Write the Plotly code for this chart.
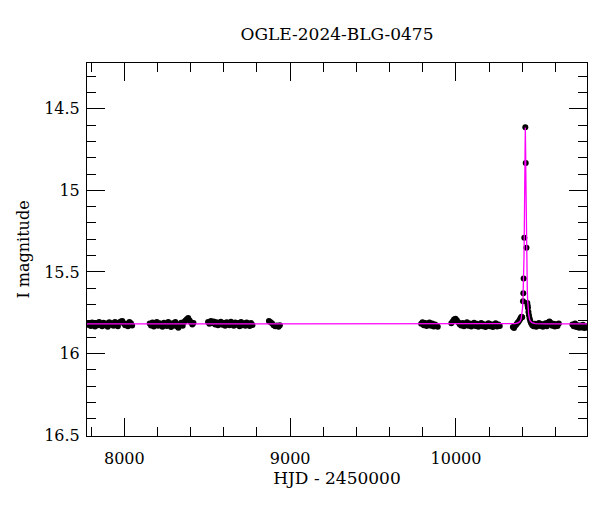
import plotly.graph_objects as go

# ---------------- data (HJD - 2450000, I magnitude) ----------------
s1_t = [7781, 7790, 7798, 7806, 7815, 7823, 7831, 7840, 7848, 7857, 7866, 7874, 7883, 7892, 7900, 7909,
        7918, 7926, 7935, 7944, 7952, 7961, 7970, 7979, 7988, 7996, 8005, 8014, 8022, 8031, 8040, 8047]
s1_m = [15.824, 15.812, 15.831, 15.809, 15.822, 15.834, 15.813, 15.827, 15.806, 15.820, 15.832, 15.811,
        15.826, 15.816, 15.835, 15.808, 15.823, 15.814, 15.829, 15.806, 15.824, 15.833, 15.810, 15.803,
        15.800, 15.814, 15.827, 15.817, 15.832, 15.807, 15.815, 15.828]

s2_t = [8153, 8161, 8170, 8178, 8187, 8196, 8204, 8213, 8222, 8230, 8239, 8248, 8256, 8265, 8274, 8282,
        8291, 8300, 8308, 8317, 8326, 8334, 8343, 8352, 8360, 8369, 8377, 8385, 8393, 8402, 8410, 8417]
s2_m = [15.816, 15.828, 15.810, 15.834, 15.820, 15.806, 15.830, 15.815, 15.825, 15.836, 15.811, 15.823,
        15.831, 15.807, 15.821, 15.838, 15.815, 15.828, 15.806, 15.833, 15.842, 15.820, 15.811, 15.829,
        15.806, 15.798, 15.790, 15.782, 15.796, 15.808, 15.822, 15.812]

s3_t = [8505, 8513, 8522, 8530, 8539, 8548, 8556, 8565, 8574, 8582, 8591, 8600, 8608, 8617, 8626, 8634,
        8643, 8652, 8660, 8669, 8678, 8686, 8695, 8704, 8712, 8721, 8730, 8738, 8747, 8756, 8764, 8773]
s3_m = [15.806, 15.818, 15.801, 15.813, 15.804, 15.822, 15.808, 15.826, 15.812, 15.805, 15.824, 15.813,
        15.830, 15.808, 15.820, 15.827, 15.805, 15.818, 15.830, 15.809, 15.823, 15.813, 15.832, 15.807,
        15.826, 15.815, 15.829, 15.809, 15.822, 15.831, 15.812, 15.825]

s4_t = [8872, 8880, 8890, 8900, 8910, 8920, 8930, 8938]
s4_m = [15.800, 15.806, 15.815, 15.826, 15.832, 15.828, 15.836, 15.826]

s5_t = [9790, 9798, 9806, 9815, 9823, 9832, 9840, 9849, 9857, 9866, 9874, 9883, 9890]
s5_m = [15.818, 15.808, 15.827, 15.813, 15.831, 15.820, 15.810, 15.829, 15.816, 15.834, 15.822, 15.830, 15.836]

s6_t = [9972, 9980, 9988, 9997, 10005, 10014, 10022, 10031, 10040, 10048, 10057, 10066, 10074, 10083,
        10092, 10100, 10109, 10118, 10126, 10135, 10144, 10152, 10161, 10170, 10178, 10187, 10196, 10204,
        10213, 10222, 10230, 10239, 10248, 10256, 10264]
s6_m = [15.815, 15.803, 15.792, 15.786, 15.796, 15.808, 15.820, 15.828, 15.812, 15.832, 15.820, 15.808,
        15.830, 15.816, 15.834, 15.822, 15.811, 15.831, 15.818, 15.835, 15.823, 15.812, 15.832, 15.820,
        15.837, 15.825, 15.814, 15.833, 15.820, 15.838, 15.826, 15.815, 15.834, 15.822, 15.831]

s7_t = [10343, 10350, 10357, 10364, 10370, 10376, 10382, 10387, 10391, 10395, 10399, 10404, 10406, 10408,
        10412, 10418, 10420.5, 10425, 10430, 10432, 10434, 10437, 10440, 10444, 10448, 10453, 10460, 10468,
        10476, 10484, 10492, 10500, 10508, 10516, 10524, 10532, 10540, 10548, 10556, 10564, 10572, 10580,
        10588, 10596, 10604, 10612, 10620]
s7_m = [15.838, 15.844, 15.830, 15.822, 15.813, 15.806, 15.798, 15.788, 15.780, 15.774, 15.778, 15.680,
        15.630, 15.540, 15.290, 14.614, 14.832, 15.352, 15.690, 15.705, 15.720, 15.745, 15.765, 15.785,
        15.800, 15.814, 15.826, 15.833, 15.817, 15.836, 15.824, 15.812, 15.831, 15.819, 15.836, 15.826,
        15.814, 15.832, 15.810, 15.804, 15.812, 15.829, 15.818, 15.834, 15.821, 15.831, 15.816]

s8_t = [10702, 10710, 10718, 10726, 10734, 10742, 10750, 10758, 10766, 10774, 10782, 10789]
s8_m = [15.822, 15.833, 15.816, 15.838, 15.826, 15.842, 15.828, 15.840, 15.823, 15.844, 15.832, 15.840]

# model light curve
model_t = [7775, 10300, 10358, 10378, 10388, 10393, 10398, 10401, 10404, 10406, 10408, 10410, 10411,
           10412, 10413, 10414, 10415, 10416, 10417, 10418, 10419, 10420, 10421, 10422, 10423, 10424,
           10425, 10426, 10428, 10430, 10432, 10435, 10438, 10443, 10448, 10458, 10478, 10540, 10790]
model_m = [15.818, 15.818, 15.817, 15.811, 15.800, 15.786, 15.757, 15.724, 15.669, 15.612, 15.530,
           15.413, 15.337, 15.247, 15.141, 15.019, 14.888, 14.759, 14.655, 14.615, 14.655, 14.759,
           14.888, 15.019, 15.141, 15.247, 15.337, 15.413, 15.530, 15.612, 15.669, 15.724, 15.757,
           15.786, 15.800, 15.811, 15.817, 15.818, 15.818]

title_text = "OGLE-2024-BLG-0475"
x_label = "HJD - 2450000"
y_label = "I magnitude"

obs_t = s1_t + s2_t + s3_t + s4_t + s5_t + s6_t + s7_t + s8_t
obs_m = s1_m + s2_m + s3_m + s4_m + s5_m + s6_m + s7_m + s8_m

FONT = "DejaVu Serif"

fig = go.Figure()
fig.add_trace(go.Scatter(x=obs_t, y=obs_m, mode="markers",
                         marker=dict(color="black", size=6, line=dict(width=0)),
                         hoverinfo="x+y"))
fig.add_trace(go.Scatter(x=model_t, y=model_m, mode="lines",
                         line=dict(color="#ff00ff", width=1.3)))

axis_common = dict(showline=True, linecolor="black", linewidth=1, mirror="ticks",
                   ticks="inside", ticklen=18, tickwidth=1, tickcolor="black",
                   showgrid=False, zeroline=False, automargin=False,
                   tickfont=dict(family=FONT, size=16, color="black"))

# the page adds an 8 px body margin, compensated in the figure margins
fig.update_layout(
    width=600, height=512,
    margin=dict(l=79, r=21, t=55, b=84),
    paper_bgcolor="white", plot_bgcolor="white",
    showlegend=False,
    title=dict(text=title_text, x=0.5, xref="paper", xanchor="center",
               y=1 - 26 / 512, yref="container", yanchor="middle",
               font=dict(family=FONT, size=17, color="black")),
    xaxis=dict(range=[7775, 10790], dtick=1000, tick0=0, tickformat="d",
               minor=dict(dtick=200, tick0=0, ticklen=9, ticks="inside", tickcolor="black", tickwidth=1),
               title=dict(text=x_label, font=dict(family=FONT, size=17, color="black"), standoff=2),
               ticklabelstandoff=8,
               **axis_common),
    yaxis=dict(range=[16.505, 14.22], dtick=0.5, tick0=0,
               minor=dict(dtick=0.1, tick0=0, ticklen=9, ticks="inside", tickcolor="black", tickwidth=1),
               title=dict(text=y_label, font=dict(family=FONT, size=16, color="black"), standoff=10),
               ticklabelstandoff=3,
               **axis_common),
)

fig.write_html("out.html")
